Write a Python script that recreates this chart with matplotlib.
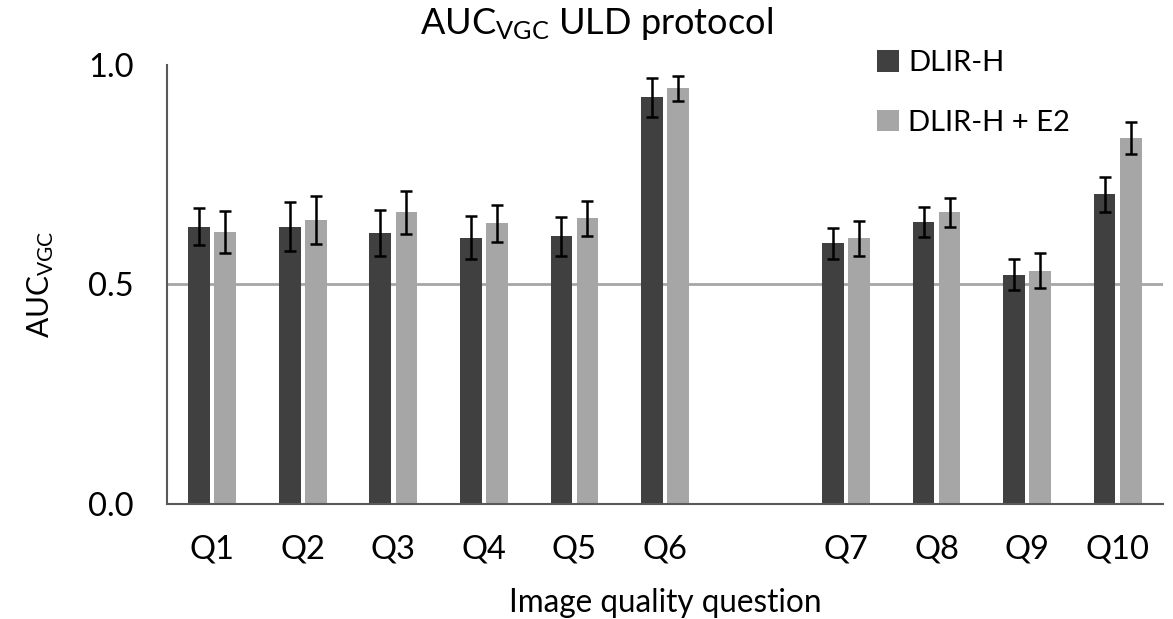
import numpy as np
import matplotlib
matplotlib.use("Agg")
import matplotlib.pyplot as plt

plt.rcParams['font.family'] = ['Lato', 'DejaVu Sans']
plt.rcParams['mathtext.fontset'] = 'custom'
plt.rcParams['mathtext.rm'] = 'Lato'
plt.rcParams['mathtext.it'] = 'Lato:italic'

# Questions Q1-Q6, an empty slot, then Q7-Q10
questions = ['Q1', 'Q2', 'Q3', 'Q4', 'Q5', 'Q6', 'Q7', 'Q8', 'Q9', 'Q10']
slots = [0, 1, 2, 3, 4, 5, 7, 8, 9, 10]

dlir_h = [0.632, 0.632, 0.617, 0.607, 0.610, 0.926, 0.594, 0.643, 0.522, 0.705]
dlir_h_err = [0.043, 0.056, 0.053, 0.049, 0.044, 0.045, 0.035, 0.034, 0.035, 0.040]
dlir_h_e2 = [0.620, 0.647, 0.664, 0.639, 0.651, 0.947, 0.605, 0.664, 0.531, 0.834]
dlir_h_e2_err = [0.048, 0.054, 0.048, 0.043, 0.040, 0.028, 0.040, 0.033, 0.040, 0.037]

fig = plt.figure(figsize=(11.73, 6.19), dpi=100)
ax = fig.add_axes([0.1424, 0.1858, 0.849, 0.7092])

x = np.array(slots)
w = 0.24
off = 0.144
err_kw = dict(ecolor='black', elinewidth=1.8, capsize=4.5, capthick=1.8)

ax.axhline(0.5, color='#a6a6a6', lw=2, zorder=1)
ax.bar(x - off, dlir_h, w, yerr=dlir_h_err, color='#404040',
       label='DLIR-H', error_kw=err_kw, zorder=2)
ax.bar(x + off, dlir_h_e2, w, yerr=dlir_h_e2_err, color='#a6a6a6',
       label='DLIR-H + E2', error_kw=err_kw, zorder=2)

ax.set_xlim(-0.5, 10.5)
ax.set_ylim(0, 1.0)
ax.set_yticks([0.0, 0.5, 1.0])
ax.set_yticklabels(['0.0', '0.5', '1.0'])
ax.set_xticks(slots)
ax.set_xticklabels(questions)
ax.tick_params(axis='both', length=0, labelsize=23.5, colors='black')
ax.tick_params(axis='y', pad=24)
ax.tick_params(axis='x', pad=22)

for side in ['top', 'right']:
    ax.spines[side].set_visible(False)
for side in ['left', 'bottom']:
    ax.spines[side].set_color('#595959')
    ax.spines[side].set_linewidth(1.5)

# title sits centred on the figure rather than the plot area
ax.set_title(r'AUC$_{\mathrm{VGC}}$ ULD protocol', fontsize=26, pad=22, x=0.431)
ax.set_xlabel('Image quality question', fontsize=22.7, labelpad=17)
ax.set_ylabel(r'AUC$_{\mathrm{VGC}}$', fontsize=21.5, labelpad=23)

ax.legend(loc='upper left', bbox_to_anchor=(877 / 1173, 1 - 50 / 619),
          bbox_transform=fig.transFigure, frameon=False,
          fontsize=21, handlelength=0.75, handleheight=0.75,
          handletextpad=0.32, labelspacing=1.15, borderaxespad=0, borderpad=0)

fig.savefig('out.png', dpi=100)
